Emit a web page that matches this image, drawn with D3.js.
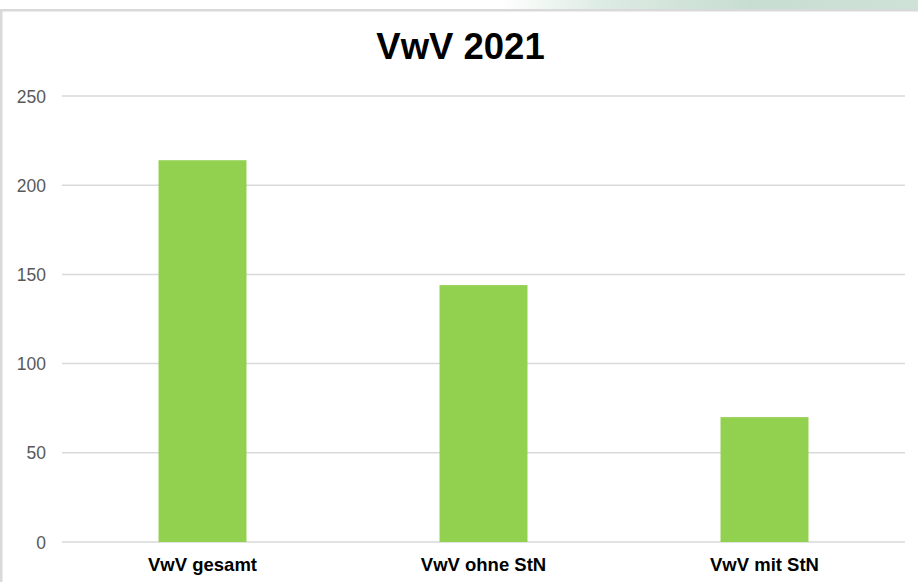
<!DOCTYPE html>
<html>
<head>
<meta charset="utf-8">
<script src="https://cdn.jsdelivr.net/npm/d3@7"></script>
<style>
  html, body { margin: 0; padding: 0; background: #ffffff; }
  svg { display: block; }
</style>
</head>
<body>
<script>
const categories = ["VwV gesamt", "VwV ohne StN", "VwV mit StN"];
const values = [214, 144, 70];
const yTicks = [0, 50, 100, 150, 200, 250];
const title = "VwV 2021";

const W = 918, H = 582;
const svg = d3.select("body").append("svg").attr("width", W).attr("height", H);

const defs = svg.append("defs");
const grad = defs.append("linearGradient").attr("id", "topband").attr("x1", "0").attr("x2", "1");
grad.append("stop").attr("offset", "0").attr("stop-color", "#ffffff");
grad.append("stop").attr("offset", "0.25").attr("stop-color", "#dcebe3");
grad.append("stop").attr("offset", "0.6").attr("stop-color", "#c8ddd1");
grad.append("stop").attr("offset", "1").attr("stop-color", "#cfe2d7");

svg.append("rect").attr("x", 500).attr("y", 0).attr("width", W - 500).attr("height", 9).attr("fill", "url(#topband)");
// frame
svg.append("rect").attr("x", 0).attr("y", 9).attr("width", W).attr("height", 2.5).attr("fill", "#d9d9d9");
svg.append("rect").attr("x", 0).attr("y", 9).attr("width", 2.5).attr("height", H - 9).attr("fill", "#d9d9d9");

const x = d3.scaleBand().domain(categories).range([62, 905]).paddingInner(0.687).paddingOuter(0.3435);
const y = d3.scaleLinear().domain([0, 250]).range([542, 96]);

// gridlines
svg.append("g").selectAll("line").data(yTicks).join("line")
  .attr("x1", 62).attr("x2", 905)
  .attr("y1", d => y(d)).attr("y2", d => y(d))
  .attr("stroke", "#d9d9d9").attr("stroke-width", 1.5);

// y axis labels
const yAxis = d3.axisLeft(y).tickValues(yTicks).tickSize(0).tickPadding(0);
const ya = svg.append("g").attr("transform", "translate(46,0)").call(yAxis);
ya.select(".domain").remove();
ya.selectAll("text")
  .attr("font-family", "Liberation Sans, Arial, sans-serif")
  .attr("font-size", 17.5).attr("fill", "#595959").attr("dy", "0.35em");

// bars
svg.append("g").selectAll("rect").data(values).join("rect")
  .attr("x", (d, i) => x(categories[i]))
  .attr("width", x.bandwidth())
  .attr("y", d => y(d))
  .attr("height", d => y(0) - y(d))
  .attr("fill", "#92d050");

// x axis labels
const xAxis = d3.axisBottom(x).tickSize(0).tickPadding(0);
const xa = svg.append("g").attr("transform", "translate(0,571)").call(xAxis);
xa.select(".domain").remove();
xa.selectAll("text")
  .attr("y", 0).attr("dy", 0)
  .attr("font-family", "Liberation Sans, Arial, sans-serif")
  .attr("font-size", 18.5).attr("font-weight", "bold").attr("fill", "#000000");

// title
svg.append("text")
  .attr("x", 460.5).attr("y", 59)
  .attr("text-anchor", "middle")
  .attr("font-family", "Liberation Sans, Arial, sans-serif")
  .attr("font-size", 36.5).attr("font-weight", "bold").attr("fill", "#000000")
  .text(title);
</script>
</body>
</html>
